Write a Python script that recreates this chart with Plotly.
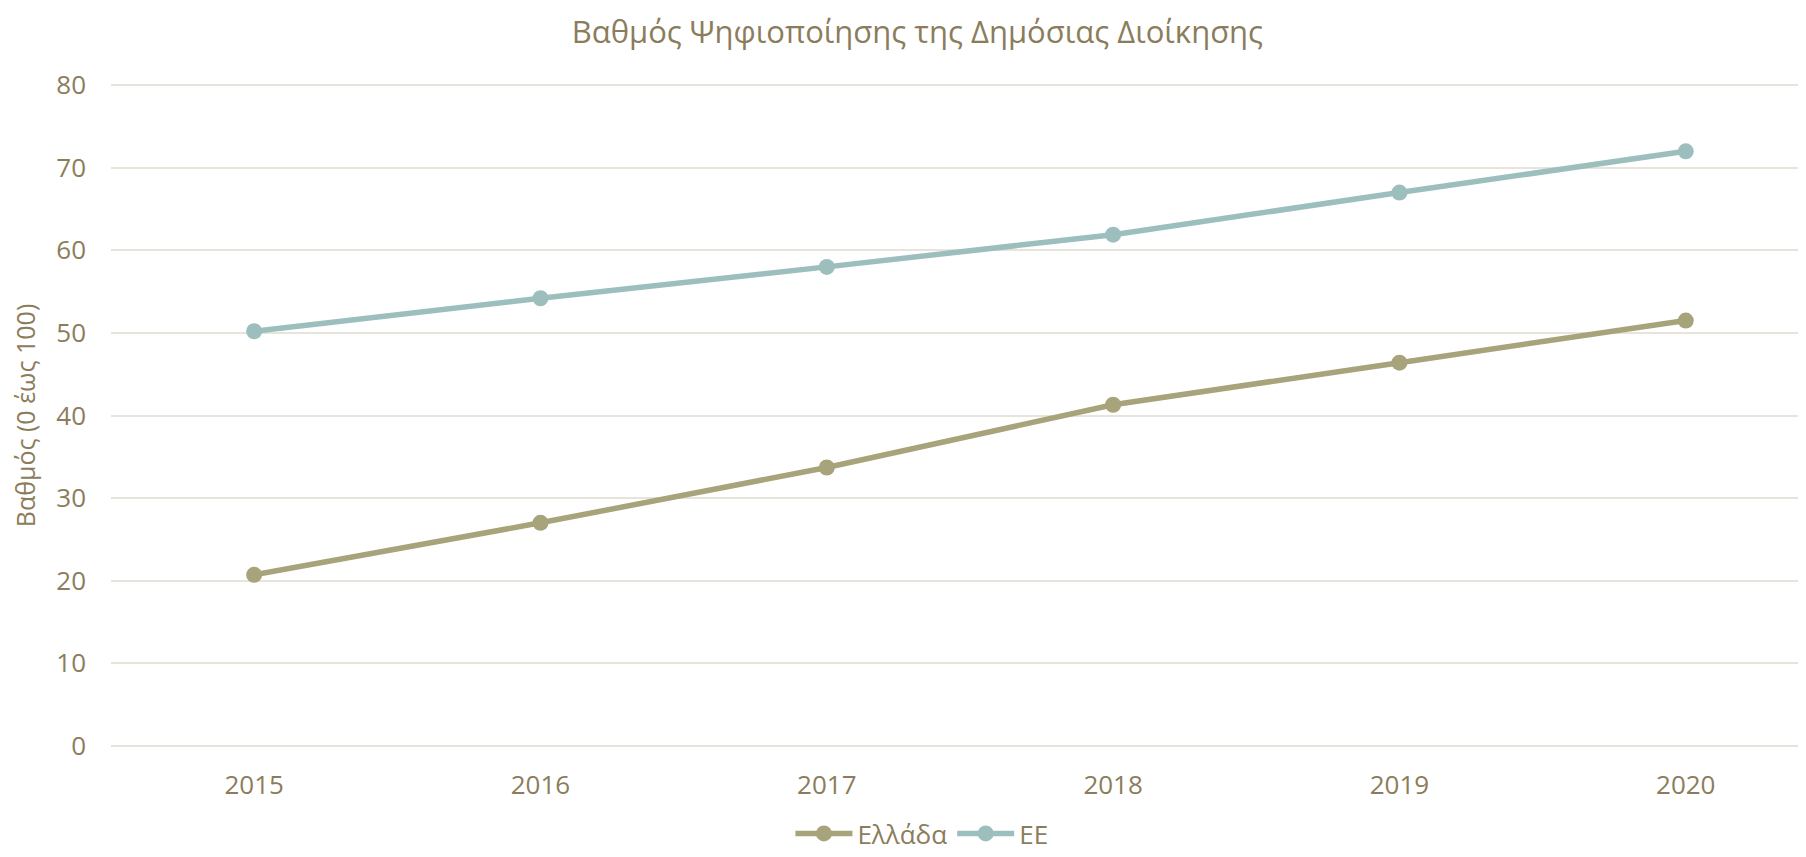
import plotly.graph_objects as go

# data
years = [2015, 2016, 2017, 2018, 2019, 2020]
greece = [20.7, 27.0, 33.7, 41.3, 46.4, 51.5]
eu = [50.2, 54.2, 58.0, 61.9, 67.0, 72.0]

series_names = ["Ελλάδα", "ΕΕ"]
title_text = "Βαθμός Ψηφιοποίησης της Δημόσιας Διοίκησης"
y_title = "Βαθμός (0 έως 100)"

text_color = "#8B7D5B"
grid_color = "#E8E4DC"
colors = ["#A7A37A", "#9CBFBE"]
font_family = "Open Sans, Noto Sans, DejaVu Sans, sans-serif"

fig = go.Figure()
for name, vals, col in zip(series_names, [greece, eu], colors):
    fig.add_trace(go.Scatter(
        x=years, y=vals, name=name, mode="lines+markers",
        line=dict(color=col, width=5.5),
        marker=dict(color=col, size=16),
    ))

# page body has an 8px margin, so the figure is sized to fit the window
fig.update_layout(
    width=1798, height=849,
    margin=dict(l=103, r=0, t=76, b=110),
    paper_bgcolor="white", plot_bgcolor="white",
    font=dict(family=font_family, color=text_color, size=26),
    title=dict(text=title_text, x=0.5058, xanchor="center", y=0.9717, yanchor="middle",
               font=dict(size=31, color=text_color)),
    legend=dict(orientation="h", xref="container", x=0.5083, xanchor="center",
                yref="container", y=0.0, yanchor="bottom",
                font=dict(size=26, color=text_color), itemwidth=57),
    showlegend=True,
)
fig.update_xaxes(
    range=[2014.5, 2020.42], tickvals=years, ticktext=[str(y) for y in years],
    showgrid=False, showline=False, zeroline=False, ticks="", automargin=False,
    ticklabelstandoff=20,
    tickfont=dict(size=26, color=text_color),
)
fig.update_yaxes(
    range=[-0.15, 80.15], tickvals=[0, 10, 20, 30, 40, 50, 60, 70, 80],
    showgrid=True, gridcolor=grid_color, gridwidth=2, automargin=False,
    zeroline=False, showline=False, ticks="", ticklabelstandoff=24,
    title=dict(text=y_title, font=dict(size=25, color=text_color), standoff=15),
    tickfont=dict(size=26, color=text_color),
)

fig.write_html("out.html")
